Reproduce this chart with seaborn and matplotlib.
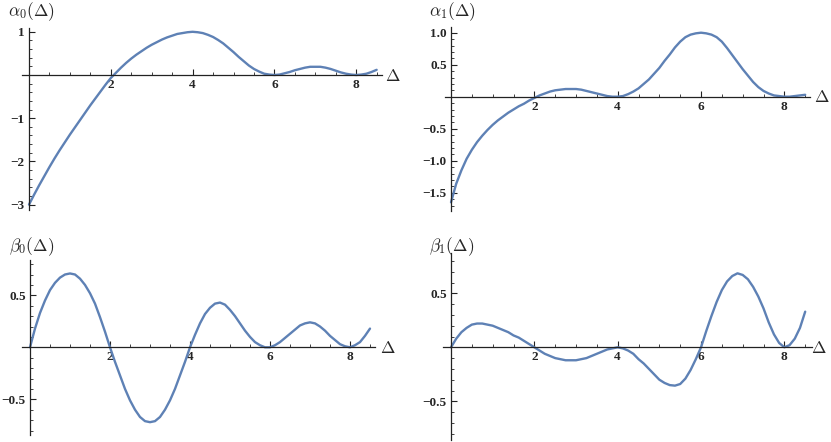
import matplotlib
matplotlib.use('Agg')
import numpy as np
import matplotlib.pyplot as plt
import seaborn as sns
from matplotlib.ticker import FixedLocator, MultipleLocator

# values, on a 0.125 grid in Delta
delta = [0.0, 0.125, 0.25, 0.375, 0.5, 0.625, 0.75, 0.875,
         1.0, 1.125, 1.25, 1.375, 1.5, 1.625, 1.75, 1.875,
         2.0, 2.125, 2.25, 2.375, 2.5, 2.625, 2.75, 2.875,
         3.0, 3.125, 3.25, 3.375, 3.5, 3.625, 3.75, 3.875,
         4.0, 4.125, 4.25, 4.375, 4.5, 4.625, 4.75, 4.875,
         5.0, 5.125, 5.25, 5.375, 5.5, 5.625, 5.75, 5.875,
         6.0, 6.125, 6.25, 6.375, 6.5, 6.625, 6.75, 6.875,
         7.0, 7.125, 7.25, 7.375, 7.5, 7.625, 7.75, 7.875,
         8.0, 8.125, 8.25, 8.375, 8.5]

alpha0 = [-3.00, -2.77, -2.55, -2.34, -2.13, -1.93, -1.74, -1.56,
          -1.38, -1.21, -1.04, -0.87, -0.70, -0.54, -0.38, -0.22,
          -0.07, 0.05, 0.17, 0.28, 0.38, 0.47, 0.55, 0.63,
          0.70, 0.76, 0.82, 0.87, 0.91, 0.95, 0.97, 0.99,
          1.00, 0.99, 0.97, 0.93, 0.88, 0.81, 0.73, 0.63,
          0.53, 0.42, 0.32, 0.22, 0.14, 0.08, 0.03, 0.01,
          0.00, 0.01, 0.04, 0.07, 0.11, 0.14, 0.17, 0.19,
          0.19, 0.19, 0.17, 0.14, 0.10, 0.06, 0.03, 0.01,
          0.00, 0.01, 0.03, 0.07, 0.12]

alpha1 = [-1.65, -1.36, -1.15, -0.97, -0.83, -0.71, -0.61, -0.52,
          -0.44, -0.37, -0.31, -0.25, -0.20, -0.15, -0.11, -0.06,
          -0.02, 0.02, 0.05, 0.08, 0.10, 0.11, 0.12, 0.12,
          0.12, 0.11, 0.09, 0.07, 0.05, 0.03, 0.01, 0.00,
          0.00, 0.01, 0.04, 0.08, 0.13, 0.20, 0.27, 0.36,
          0.45, 0.56, 0.66, 0.77, 0.86, 0.93, 0.97, 0.99,
          1.00, 0.99, 0.97, 0.93, 0.86, 0.76, 0.65, 0.54,
          0.43, 0.33, 0.23, 0.15, 0.09, 0.05, 0.02, 0.01,
          0.00, 0.00, 0.01, 0.02, 0.03]

beta0 = [0.00, 0.18, 0.33, 0.45, 0.55, 0.62, 0.67, 0.70,
         0.71, 0.70, 0.66, 0.60, 0.52, 0.42, 0.29, 0.15,
         0.00, -0.14, -0.27, -0.40, -0.51, -0.60, -0.67, -0.71,
         -0.72, -0.71, -0.67, -0.60, -0.51, -0.40, -0.27, -0.14,
         0.00, 0.12, 0.23, 0.32, 0.38, 0.42, 0.43, 0.41,
         0.36, 0.30, 0.23, 0.16, 0.10, 0.05, 0.02, 0.00,
         0.00, 0.02, 0.05, 0.09, 0.13, 0.17, 0.21, 0.23,
         0.24, 0.23, 0.20, 0.16, 0.11, 0.07, 0.03, 0.01,
         0.00, 0.02, 0.05, 0.11, 0.18]

beta1 = [0.00, 0.08, 0.14, 0.18, 0.21, 0.22, 0.22, 0.21,
         0.20, 0.18, 0.16, 0.14, 0.11, 0.09, 0.06, 0.03,
         0.00, -0.03, -0.06, -0.08, -0.10, -0.11, -0.12, -0.12,
         -0.12, -0.11, -0.10, -0.08, -0.06, -0.04, -0.02, -0.01,
         0.00, -0.01, -0.03, -0.06, -0.11, -0.15, -0.20, -0.25,
         -0.30, -0.33, -0.35, -0.355, -0.34, -0.29, -0.21, -0.11,
         0.00, 0.15, 0.29, 0.42, 0.53, 0.61, 0.66, 0.685,
         0.67, 0.63, 0.56, 0.47, 0.36, 0.23, 0.12, 0.04,
         0.00, 0.02, 0.08, 0.18, 0.33]

xticks = [2, 4, 6, 8]
xticklabels = ['2', '4', '6', '8']

W, H = 831, 442
sns.set_style('white')
plt.rcParams['mathtext.fontset'] = 'cm'

fig = plt.figure(figsize=(W / 100, H / 100), dpi=100)


def make_axes(x0, y0, sx, sy, xlim, ylim):
    # place axes so that data origin lands at pixel (x0, y0)
    left = x0 + xlim[0] * sx
    right = x0 + xlim[1] * sx
    top = y0 - ylim[1] * sy
    bottom = y0 - ylim[0] * sy
    ax = fig.add_axes([left / W, 1 - bottom / H, (right - left) / W, (bottom - top) / H])
    return ax


panels = [
    dict(y=alpha0, org=(29, 75), sx=40.9, sy=43.2, xlim=(-0.18, 8.63), ylim=(-3.12, 1.09),
         yt=[-3, -2, -1, 1], ytl=['\u22123', '\u22122', '\u22121', '1'], ymin=0.2,
         lab=r'$\alpha_0(\Delta)$', labpos=(31, 12), dpos=(393, 76)),
    dict(y=alpha1, org=(451, 96.7), sx=41.67, sy=64, xlim=(-0.14, 8.62), ylim=(-1.78, 1.09),
         yt=[-1.5, -1.0, -0.5, 0.5, 1.0], ytl=['\u22121.5', '\u22121.0', '\u22120.5', '0.5', '1.0'], ymin=0.1,
         lab=r'$\alpha_1(\Delta)$', labpos=(452, 12), dpos=(822, 97)),
    dict(y=beta0, org=(30, 347.3), sx=40, sy=104, xlim=(-0.21, 8.63), ylim=(-0.84, 0.84),
         yt=[-0.5, 0.5], ytl=['\u22120.5', '0.5'], ymin=0.1,
         lab=r'$\beta_0(\Delta)$', labpos=(32, 247), dpos=(388, 348)),
    dict(y=beta1, org=(451, 347.3), sx=41.67, sy=108, xlim=(-0.18, 8.66), ylim=(-0.86, 0.87),
         yt=[-0.5, 0.5], ytl=['\u22120.5', '0.5'], ymin=0.1,
         lab=r'$\beta_1(\Delta)$', labpos=(452, 247), dpos=(819, 348)),
]

for p in panels:
    ax = make_axes(p['org'][0], p['org'][1], p['sx'], p['sy'], p['xlim'], p['ylim'])
    sns.lineplot(x=delta, y=p['y'], ax=ax, color='#5E81B5', linewidth=1.7)
    ax.set_xlim(p['xlim'])
    ax.set_ylim(p['ylim'])

    for side in ['top', 'right']:
        ax.spines[side].set_visible(False)
    ax.spines['left'].set_position(('data', 0))
    ax.spines['bottom'].set_position(('data', 0))
    for side in ['left', 'bottom']:
        ax.spines[side].set_color('#222222')
        ax.spines[side].set_linewidth(0.9)

    ax.xaxis.set_major_locator(FixedLocator(xticks))
    ax.set_xticklabels(xticklabels, fontfamily='Liberation Serif', fontweight='bold')
    ax.xaxis.set_minor_locator(MultipleLocator(0.5))
    ax.yaxis.set_major_locator(FixedLocator(p['yt']))
    ax.set_yticklabels(p['ytl'], fontfamily='Liberation Serif', fontweight='bold')
    ax.yaxis.set_minor_locator(MultipleLocator(p['ymin']))

    ax.tick_params(which='major', direction='in', length=4.5, width=0.8, color='#222222',
                   labelsize=9.5, pad=3, bottom=True, left=True)
    ax.tick_params(which='minor', direction='in', length=2.5, width=0.6, color='#222222',
                   bottom=True, left=True)
    ax.set_xlabel('')
    ax.set_ylabel('')
    ax.patch.set_alpha(0)

    fig.text(p['labpos'][0] / W, 1 - p['labpos'][1] / H, p['lab'],
             ha='center', va='center', fontsize=12.5)
    fig.text(p['dpos'][0] / W, 1 - p['dpos'][1] / H, r'$\Delta$',
             ha='center', va='center', fontsize=12.5)

fig.savefig('out.png', dpi=100)
